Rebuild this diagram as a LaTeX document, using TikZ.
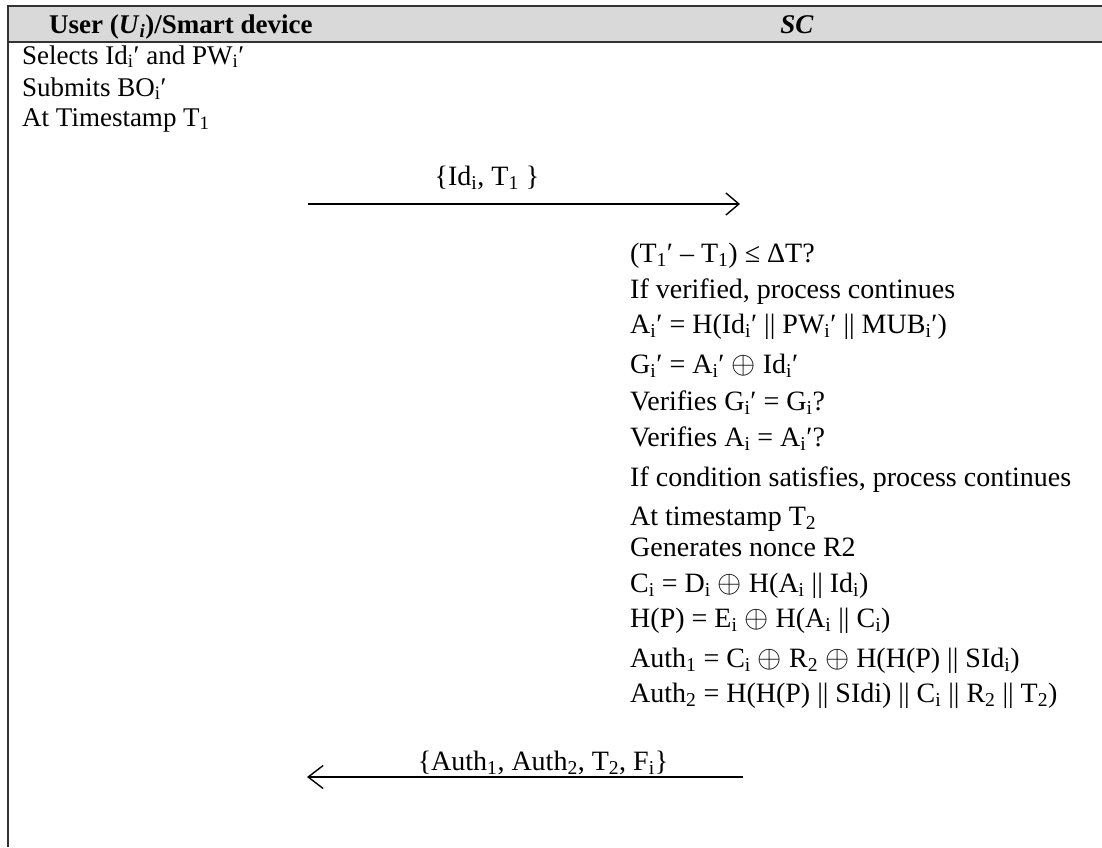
\documentclass[tikz,border=0pt]{standalone}
\usepackage{fontspec}
\setmainfont{Liberation Serif}
\usetikzlibrary{arrows.meta}
\newcommand{\mysub}[1]{\textsubscript{#1}}
\newcommand{\myxor}{\scalebox{1.25}{$\oplus$}}
\newcommand{\myprime}{′}
\definecolor{hdrgray}{HTML}{D9D9D9}
\definecolor{rulegray}{HTML}{333333}
\tikzset{
  lefttext/.style={anchor=base west, inner sep=0pt, font=\fontsize{27}{32}\selectfont},
  righttext/.style={anchor=base west, inner sep=0pt, font=\fontsize{28}{33}\selectfont},
  hdrtext/.style={anchor=base, inner sep=0pt, font=\fontsize{27}{32}\selectfont\bfseries},
  msglabel/.style={anchor=base, inner sep=0pt, font=\fontsize{28}{33}\selectfont},
  msg/.style={line width=1.4pt, draw=black},
  tablerule/.style={line width=2pt, draw=rulegray}
}
\begin{document}
\begin{tikzpicture}[x=1pt,y=-1pt]
\useasboundingbox (0,0) rectangle (1102,847);
% header
\fill[hdrgray] (8,6) rectangle (1102,42);
\draw[tablerule] (1102,6) -- (8,6) -- (8,847);
\draw[tablerule] (8,42) -- (1102,42);
\node[hdrtext, anchor=base west] (huser) at (49,33) {User (\textit{U}\mysub{\textit{i}})/Smart device};
\node[hdrtext] (hsc) at (797,33) {\textit{SC}};
% user side
\node[lefttext] (u1) at (22,64) {Selects Id\mysub{i}\myprime{} and PW\mysub{i}\myprime};
\node[lefttext] (u2) at (22,96) {Submits BO\mysub{i}\myprime};
\node[lefttext] (u3) at (22,126) {At Timestamp T\mysub{1}};
% message 1
\coordinate (m1s) at (308,204);
\coordinate (m1e) at (740,204);
\draw[msg, -{Straight Barb[length=13pt,width=22pt,line width=1.4pt]}] (m1s) -- (m1e);
\node[msglabel] (m1l) at (487,185) {\{Id\mysub{i}, T\mysub{1} \}};
% SC side
\node[righttext] (s1) at (630,262) {(T\mysub{1}\myprime{} -- T\mysub{1}) ≤ ΔT?};
\node[righttext] (s2) at (630,298) {If verified, process continues};
\node[righttext] (s3) at (630,333) {A\mysub{i}\myprime{} = H(Id\mysub{i}\myprime{} || PW\mysub{i}\myprime{} || MUB\mysub{i}\myprime)};
\node[righttext] (s4) at (630,373) {G\mysub{i}\myprime{} = A\mysub{i}\myprime{} \myxor{} Id\mysub{i}\myprime};
\node[righttext] (s5) at (630,410) {Verifies G\mysub{i}\myprime{} = G\mysub{i}?};
\node[righttext] (s6) at (630,446) {Verifies A\mysub{i} = A\mysub{i}\myprime?};
\node[righttext] (s7) at (630,486) {If condition satisfies, process continues};
\node[righttext] (s8) at (630,525) {At timestamp T\mysub{2}};
\node[righttext] (s9) at (630,556) {Generates nonce R2};
\node[righttext] (s10) at (630,592) {C\mysub{i} = D\mysub{i} \myxor{} H(A\mysub{i} || Id\mysub{i})};
\node[righttext] (s11) at (630,627) {H(P) = E\mysub{i} \myxor{} H(A\mysub{i} || C\mysub{i})};
\node[righttext] (s12) at (630,667) {Auth\mysub{1} = C\mysub{i} \myxor{} R\mysub{2} \myxor{} H(H(P) || SId\mysub{i})};
\node[righttext] (s13) at (630,702) {Auth\mysub{2} = H(H(P) || SIdi) || C\mysub{i} || R\mysub{2} || T\mysub{2})};
% message 2
\coordinate (m2s) at (743,777);
\coordinate (m2e) at (307,777);
\draw[msg, -{Straight Barb[length=15pt,width=23pt,line width=1.4pt]}] (m2s) -- (m2e);
\node[msglabel] (m2l) at (543,770) {\{Auth\mysub{1}, Auth\mysub{2}, T\mysub{2}, F\mysub{i}\}};
\end{tikzpicture}
\end{document}
